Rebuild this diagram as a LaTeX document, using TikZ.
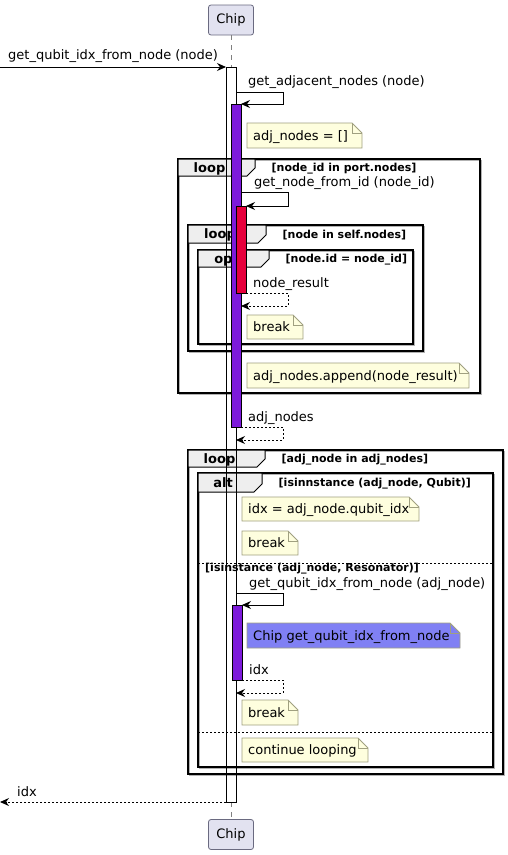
\documentclass[tikz,border=0pt]{standalone}
\usepackage{fontspec}
\setmainfont{DejaVu Sans}
\usetikzlibrary{arrows.meta}
\definecolor{partfill}{HTML}{E2E2F0}
\definecolor{partdraw}{HTML}{6A6A80}
\definecolor{purp}{HTML}{7D1ADB}
\definecolor{redact}{HTML}{E6003C}
\definecolor{notefill}{HTML}{FEFEDE}
\definecolor{notedraw}{HTML}{A0A080}
\definecolor{bluenote}{HTML}{8080F4}
\definecolor{tabgray}{HTML}{EEEEEE}
\tikzset{
  txt/.style={font=\fontsize{13}{15}\selectfont, inner sep=0pt},
  participant/.style={draw=partdraw, fill=partfill, rounded corners=2.5pt, minimum width=45pt, minimum height=30pt, inner sep=0pt, font=\fontsize{13}{15}\selectfont, line width=0.8pt},
  lifeline/.style={draw=gray, dash pattern=on 5pt off 5pt, line width=0.8pt},
  actbox/.style={draw=black, line width=0.9pt},
  msg/.style={draw=black, line width=1pt, -{Stealth[length=9pt,width=8pt,inset=3pt]}},
  ret/.style={msg, dash pattern=on 2pt off 2pt},
  notestyle/.style={draw=notedraw, line width=0.8pt},
  frline/.style={draw=black, line width=1.6pt},
  frshadow/.style={draw=gray!60, line width=1.2pt},
  tabtxt/.style={font=\fontsize{13}{15}\selectfont\bfseries, inner sep=0pt},
  condtxt/.style={font=\fontsize{11}{13}\selectfont\bfseries, inner sep=0pt, anchor=base west},
  sep/.style={draw=black, line width=0.8pt, dash pattern=on 2pt off 2pt},
}
\newcommand\notebox[7]{%
  \draw[notestyle, fill=#6] (#2,#3) -- ({#4-10},#3) -- (#4,{#3+10}) -- (#4,#5) -- (#2,#5) -- cycle;
  \draw[notestyle] ({#4-10},#3) -- ({#4-10},{#3+10}) -- (#4,{#3+10});
  \node[txt, anchor=base west] (#1) at ({#2+6},{(#3+#5)/2+4.5}) {#7};
}
\newcommand\frameblk[9]{%
  \draw[frshadow] ({#2+1.6},{#3+1.6}) rectangle ({#4+1.6},{#5+1.6});
  \draw[frline] (#2,#3) rectangle (#4,#5);
  \draw[frline, line width=1pt, fill=tabgray] (#2,#3) -- (#6,#3) -- (#6,{#7-8}) -- ({#6-8},#7) -- (#2,#7) -- cycle;
  \node[tabtxt, anchor=base] (#1) at ({(#2+#6)/2-7},{(#3+#7)/2+4.5}) {#8};
  \node[condtxt] (#1c) at ({#6+16.5},{(#3+#7)/2+4}) {#9};
}
\begin{document}
\begin{tikzpicture}[x=1pt,y=-1pt]
\useasboundingbox (0,0) rectangle (508,855);

% participants and lifeline
\node[participant] (top) at (231,20) {Chip};
\node[participant] (bot) at (231,834.5) {Chip};
\coordinate (act0t) at (231,67);
\coordinate (act0b) at (231,802);
\draw[lifeline] (top.south) -- (act0t);
\draw[lifeline] (act0b) -- (bot.north);

% frames
\frameblk{loopA}{178}{159}{480}{393}{255}{176}{loop}{[node\_id in port.nodes]}
\frameblk{loopB}{188}{225}{423}{351}{266}{243}{loop}{[node in self.nodes]}
\frameblk{optC}{198}{250}{413}{344}{269}{267}{opt}{[node.id = node\_id]}
\frameblk{loopD}{188}{450}{503}{774}{265}{467}{loop}{[adj\_node in adj\_nodes]}
\frameblk{altE}{198}{473}{493}{767}{262}{492}{alt}{[isinnstance (adj\_node, Qubit)]}
\draw[sep] (198,563) -- (493,563);
\node[condtxt] (altE2) at (205,571.5) {[isinstance (adj\_node, Resonator)]};
\draw[sep] (198,732) -- (493,732);

% activations
\draw[actbox] (226,67) rectangle (236,802);
\draw[actbox, fill=purp] (231,104) rectangle (241,427);
\draw[actbox, fill=redact] (236,206) rectangle (246,293);
\draw[actbox, fill=purp] (232,605) rectangle (242,680);

% incoming call
\coordinate (in0) at (0,67);
\coordinate (in1) at (226,67);
\draw[msg] (in0) -- (in1);
\node[txt, anchor=base west] (l1) at (8,59) {get\_qubit\_idx\_from\_node (node)};

% self message 1
\coordinate (s1a) at (236,92);
\coordinate (s1b) at (241,104);
\draw[msg] (s1a) -- (283,92) -- (283,104) -- (s1b);
\node[txt, anchor=base west] (l2) at (248,85) {get\_adjacent\_nodes (node)};

\notebox{n1}{247}{123}{362}{148}{notefill}{adj\_nodes = []}

% self message 2
\coordinate (s2a) at (241,192);
\coordinate (s2b) at (246,206);
\draw[msg] (s2a) -- (288,192) -- (288,206) -- (s2b);
\node[txt, anchor=base west] (l3) at (254,186) {get\_node\_from\_id (node\_id)};

% return node_result
\coordinate (r1a) at (246,293);
\coordinate (r1b) at (241,306);
\draw[ret] (r1a) -- (288,293) -- (288,306) -- (r1b);
\node[txt, anchor=base west] (l4) at (253,287) {node\_result};

\notebox{n2}{247}{315}{303}{339}{notefill}{break}
\notebox{n3}{247}{363}{469}{388}{notefill}{adj\_nodes.append(node\_result)}

% return adj_nodes
\coordinate (r2a) at (241,427);
\coordinate (r2b) at (236,440);
\draw[ret] (r2a) -- (283,427) -- (283,440) -- (r2b);
\node[txt, anchor=base west] (l5) at (248,421) {adj\_nodes};

\notebox{n4}{242}{497}{419}{521}{notefill}{idx = adj\_node.qubit\_idx}
\notebox{n5}{242}{531}{298}{555}{notefill}{break}

% self message 3
\coordinate (s3a) at (236,593);
\coordinate (s3b) at (242,605);
\draw[msg] (s3a) -- (283,593) -- (283,605) -- (s3b);
\node[txt, anchor=base west] (l6) at (249,587) {get\_qubit\_idx\_from\_node (adj\_node)};

\notebox{n6}{247}{623}{460}{648}{bluenote}{Chip get\_qubit\_idx\_from\_node}

% return idx
\coordinate (r3a) at (242,680);
\coordinate (r3b) at (236,693);
\draw[ret] (r3a) -- (283,680) -- (283,693) -- (r3b);
\node[txt, anchor=base west] (l7) at (249,674) {idx};

\notebox{n7}{242}{700}{298}{725}{notefill}{break}
\notebox{n8}{242}{738}{368}{762}{notefill}{continue looping}

% final return
\coordinate (o0) at (226,802);
\coordinate (o1) at (0,802);
\draw[ret] (o0) -- (o1);
\node[txt, anchor=base west] (l8) at (17,796) {idx};
\end{tikzpicture}
\end{document}
